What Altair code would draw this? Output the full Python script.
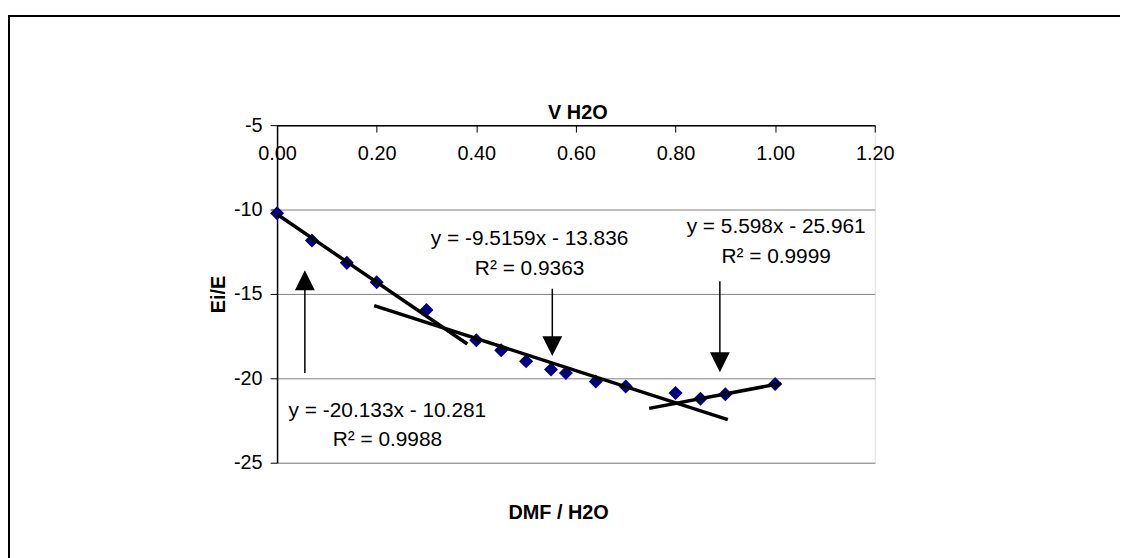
import altair as alt
import pandas as pd

FONT = "Liberation Sans"

# measured data (V H2O fraction vs Ei/E)
x_vals = [0.00, 0.07, 0.14, 0.20, 0.30, 0.40, 0.45, 0.50, 0.55, 0.58, 0.64, 0.70, 0.80, 0.85, 0.90, 1.00]
y_vals = [-10.22, -11.84, -13.16, -14.31, -15.95, -17.75, -18.34, -18.99, -19.48, -19.69,
          -20.19, -20.48, -20.87, -21.21, -20.95, -20.34]

# trend line segments (end points)
trend_seg = ["a", "a", "b", "b", "c", "c"]
trend_x = [0.000, 0.382, 0.195, 0.905, 0.747, 1.012]
trend_y = [-10.28, -17.97, -15.69, -22.45, -21.78, -20.30]

# annotation texts
ann_text = ["y = -9.5159x - 13.836", "R² = 0.9363",
            "y = 5.598x - 25.961", "R² = 0.9999",
            "y = -20.133x - 10.281", "R² = 0.9988"]
ann_x = [0.507, 0.507, 1.002, 1.002, 0.2215, 0.2215]
ann_y = [-11.73, -13.50, -11.06, -12.82, -21.94, -23.66]

# arrows: head centre and tail
arrow_dir = ["up", "down", "down"]
arrow_x = [0.0558, 0.5526, 0.889]
arrow_head_y = [-14.19, -18.09, -19.05]
arrow_tail_y = [-19.68, -14.69, -14.25]

x_ticks = [0.0, 0.2, 0.4, 0.6, 0.8, 1.0, 1.2]
y_ticks = [-25, -20, -15, -10, -5]

chart_title = ["V H2O"]

pts = pd.DataFrame({"x": x_vals, "y": y_vals})
trend = pd.DataFrame({"seg": trend_seg, "x": trend_x, "y": trend_y})
ann = pd.DataFrame({"label": ann_text, "x": ann_x, "y": ann_y})
arr = pd.DataFrame({"dir": arrow_dir, "x": arrow_x, "yh": arrow_head_y, "yt": arrow_tail_y})
ttl = pd.DataFrame({"t": chart_title})

W, H = 602, 340

xscale = alt.Scale(domain=[0, 1.2], nice=False, zero=False)
yscale = alt.Scale(domain=[-25, -5], nice=False, zero=False)

xaxis = alt.Axis(
    orient="bottom", offset=-H, values=x_ticks, format=".2f",
    grid=False, domainColor="black", domainWidth=1.5,
    tickColor="black", tickSize=7, labelPadding=12, labelFlush=False,
    labelFontSize=20, labelFont=FONT, labelColor="black",
    title="DMF / H2O", titleFont=FONT, titleFontSize=20, titleFontWeight="bold",
    titleColor="black", titleX=283, titleY=390, titleAlign="center", titleBaseline="middle",
)
yaxis = alt.Axis(
    values=y_ticks, grid=True, gridColor="#808080", gridWidth=1,
    domainColor="black", domainWidth=1.5, tickColor="black", tickSize=7,
    labelPadding=8, labelFontSize=20, labelFont=FONT, labelColor="black",
    labelExpr="replace(datum.label, '\u2212', '-')",
    title="Ei/E", titleFont=FONT, titleFontSize=20, titleFontWeight="bold",
    titleColor="black", titleAngle=270, titleX=-59, titleY=170,
    titleAlign="center", titleBaseline="middle",
)

frame = alt.Chart(alt.Data(values=[{"a": 1}])).mark_rect(
    fillOpacity=0, stroke="black", strokeWidth=2
).encode(
    x=alt.value(-270), x2=alt.value(1400), y=alt.value(-110), y2=alt.value(1000)
)

title_txt = alt.Chart(ttl).mark_text(
    font=FONT, fontSize=20, fontWeight="bold", color="black",
    align="center", baseline="middle"
).encode(x=alt.value(303), y=alt.value(-12.5), text="t:N")

points = alt.Chart(pts).mark_point(
    shape="diamond", filled=True, size=200, color="#000080", opacity=1
).encode(
    x=alt.X("x:Q", scale=xscale, axis=xaxis),
    y=alt.Y("y:Q", scale=yscale, axis=yaxis),
)

lines = alt.Chart(trend).mark_line(color="black", strokeWidth=3.5).encode(
    x="x:Q", y="y:Q", detail="seg:N"
)

shafts = alt.Chart(arr).mark_rule(color="black", strokeWidth=1.5).encode(
    x="x:Q", y="yh:Q", y2="yt:Q"
)

heads_up = alt.Chart(arr).transform_filter(alt.datum.dir == "up").mark_point(
    shape="M0,-1L1,1L-1,1Z", filled=True, size=400, color="black", opacity=1
).encode(x="x:Q", y="yh:Q")

heads_down = alt.Chart(arr).transform_filter(alt.datum.dir == "down").mark_point(
    shape="M-1,-1L1,-1L0,1Z", filled=True, size=400, color="black", opacity=1
).encode(x="x:Q", y="yh:Q")

texts = alt.Chart(ann).mark_text(
    font=FONT, fontSize=21, color="black", align="center", baseline="middle"
).encode(x="x:Q", y="y:Q", text="label:N")

chart = alt.layer(frame, title_txt, points, lines, shafts, heads_up, heads_down, texts).properties(
    width=W, height=H,
    autosize=alt.AutoSizeParams(type="none"),
    padding={"left": 271, "top": 116, "right": 247, "bottom": 94},
).configure_view(stroke="#808080", strokeWidth=2).configure(background="white")

chart.save("out.html", embed_options={"renderer": "svg", "actions": False})
